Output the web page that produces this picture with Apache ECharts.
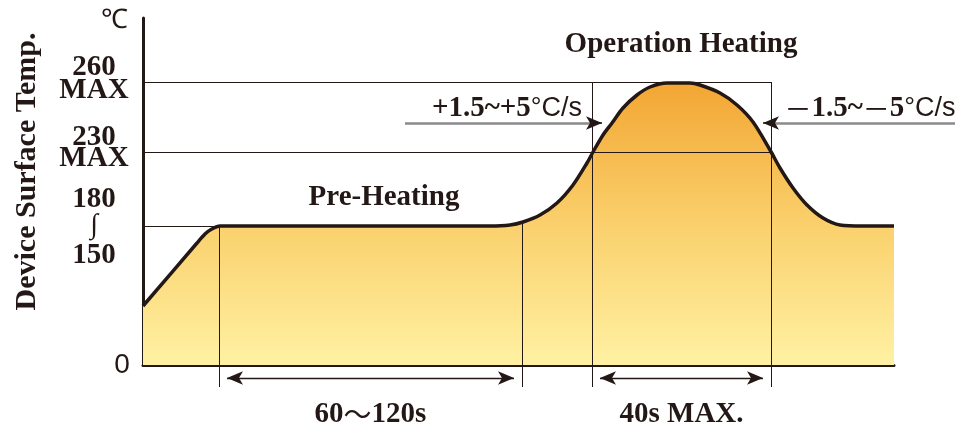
<!DOCTYPE html>
<html><head><meta charset="utf-8">
<script src="https://cdn.jsdelivr.net/npm/echarts@6/dist/echarts.min.js"></script>
<style>html,body{margin:0;padding:0;background:#fff}#c{width:962px;height:430px}</style>
</head><body><div id="c"></div>
<script>
// Schematic reflow profile: x = time (schematic units), y = temperature level (schematic units)
const profileX = [0, 54, 62, 68, 77, 347, 367, 380, 397, 414, 430, 444, 450, 460, 469, 480, 494, 507, 524, 537, 547, 557, 577, 594, 610, 627, 637, 650, 664, 680, 697, 720, 751];
const profileY = [59, 122, 131, 135.5, 139, 139, 140, 143, 150, 162, 180, 202, 213, 230, 242, 257, 270, 278, 282, 282, 282, 280, 272, 260, 243, 215, 197, 177, 160, 147, 140, 139, 139];

// y-axis levels and their labels
const yTickValues = [0, 139, 213, 283, 347];
const yTickLabels = ['0', '180\n∫\n150', '230\nMAX', '260\nMAX', '℃'];

// x-axis duration labels (placed at the middle of each span)
const xLabelValues = [227.5, 538.5];
const xLabelTexts = ['60〜120s', '40s MAX.'];

// guide lines [[x1,y1],[x2,y2]]
const guideLines = [
  [[0, 283], [628, 283]],
  [[0, 213], [628, 213]],
  [[0, 139], [77, 139]],
  [[76, 139], [76, -22]],
  [[379, 143], [379, -22]],
  [[449, 283], [449, -22]],
  [[628, 283], [628, -22]]
];
// double-headed duration arrows
const spanArrows = [
  [[76, -13], [379, -13]],
  [[449, -13], [628, -13]]
];
// slope pointer arrows (from, to)
const slopeArrows = [
  [[262, 242], [467, 242]],
  [[812, 242], [612, 242]]
];
// text annotations
const noteTexts = ['{b|Operation Heating}', '{b|Pre-Heating}', '{b|+1.5~+5}{s|°C/s}', '{m|－}{b|1.5~}{m|－}{b|5}{s|°C/s}'];
const noteX = [538, 241, 364, 727];
const noteY = [320, 167, 256, 256];

const INK = '#231815';
const SERIF = '"Liberation Serif", "Times New Roman", serif';
const SANS = '"Liberation Sans", Arial, sans-serif';
const CJK = '"Noto Sans CJK JP", sans-serif';
const AH = 16; // arrow head length
// extra padding (px) used to place the multi-line y labels like the original
const yLabelPad = {283: {bottom: 11}, 213: {bottom: 16}, 139: {top: 8}};
const LH = 29;
const LH3 = 30;

function shorten(seg, a, b) {
  const [[x1, y1], [x2, y2]] = seg;
  const dx = x2 - x1, dy = y2 - y1, L = Math.hypot(dx, dy);
  const ux = dx / L, uy = dy / L;
  return [[x1 + ux * a, y1 + uy * a], [x2 - ux * b, y2 - uy * b]];
}

const profile = profileX.map((x, i) => [x, profileY[i]]);

const nRich = {fontFamily: SERIF, fontWeight: 'bold', fontSize: 29, lineHeight: LH, color: INK};
const rich = {
  n: nRich,
  w: {fontFamily: SERIF, fontWeight: 'bold', fontSize: 28, lineHeight: LH3, color: INK},
  n3: Object.assign({}, nRich, {lineHeight: LH3}),
  z: {fontFamily: SANS, fontSize: 28, color: INK, padding: [0, 0, 0, 56]},
  c: {fontFamily: SANS, fontSize: 27, color: INK, padding: [6, 0, 0, 40]}
};
Object.keys(yLabelPad).forEach(k => {
  const p = yLabelPad[k];
  rich['p' + k] = Object.assign({}, nRich, {lineHeight: p.top ? LH3 : LH, padding: [p.top || 0, 0, p.bottom || 0, 0]});
});

const chart = echarts.init(document.getElementById('c'), null, {renderer: 'canvas'});
chart.setOption({
  animation: false,
  backgroundColor: '#fff',
  grid: {left: 143, right: 68, top: 18, bottom: 65, containLabel: false},
  xAxis: {
    type: 'value', min: 0, max: 751,
    splitLine: {show: false}, axisTick: {show: false},
    axisLine: {lineStyle: {color: INK, width: 3}},
    axisLabel: {
      customValues: xLabelValues, margin: 35, color: INK,
      formatter: v => {
        const t = xLabelTexts[xLabelValues.indexOf(v)] || '';
        return t.split('〜').map(s => '{b|' + s + '}').join('{m|〜}');
      },
      rich: {
        b: {fontFamily: SERIF, fontWeight: 'bold', fontSize: 29, color: INK},
        m: {fontFamily: CJK, fontWeight: 'normal', fontSize: 28, color: INK}
      }
    }
  },
  yAxis: {
    type: 'value', min: 0, max: 347,
    splitLine: {show: false}, axisTick: {show: false},
    axisLine: {lineStyle: {color: INK, width: 3}},
    name: 'Device Surface Temp.', nameLocation: 'middle', nameRotate: 90, nameGap: 101,
    nameTextStyle: {fontFamily: SERIF, fontWeight: 'bold', fontSize: 30, color: INK, padding: [0, 0, 0, 40]},
    axisLabel: {
      customValues: yTickValues, margin: 49, align: 'center', color: INK,
      formatter: v => {
        const t = yTickLabels[yTickValues.indexOf(v)];
        if (t === '0') return '{z|0}';
        if (t === '℃') return '{c|℃}';
        const pad = yLabelPad[v] || {};
        const lines = t.split('\n');
        return lines.map((s, i) => {
          if (s === '∫') return '{w|∫}';
          let key = lines.length === 3 ? 'n3' : 'n';
          if (pad.bottom && i === lines.length - 1) key = 'p' + v;
          if (pad.top && i === 0) key = 'p' + v;
          return '{' + key + '|' + s + '}';
        }).join('\n');
      },
      rich: rich
    }
  },
  series: [
    {
      type: 'line', data: profile, smooth: 0.3, symbol: 'none', z: 1,
      lineStyle: {width: 0},
      areaStyle: {
        opacity: 1,
        color: new echarts.graphic.LinearGradient(0, 0, 0, 1, [
          {offset: 0, color: '#F3A633'},
          {offset: 0.5, color: '#FAD06C'},
          {offset: 1, color: '#FFF1A3'}
        ])
      }
    },
    {
      type: 'lines', coordinateSystem: 'cartesian2d', clip: false, z: 2,
      symbol: ['none', 'none'],
      lineStyle: {color: INK, width: 1, opacity: 1},
      data: guideLines.map(c => ({coords: c}))
    },
    {
      type: 'lines', coordinateSystem: 'cartesian2d', clip: false, z: 2,
      symbol: ['arrow', 'arrow'], symbolSize: [[10, AH], [10, AH]],
      lineStyle: {color: INK, width: 1.3, opacity: 1},
      data: spanArrows.map(c => ({coords: shorten(c, AH / 2, AH / 2)}))
    },
    {
      type: 'lines', coordinateSystem: 'cartesian2d', clip: false, z: 2,
      symbol: ['none', 'none'],
      lineStyle: {color: '#8a8a8a', width: 2.5, opacity: 1},
      data: slopeArrows.map(c => ({coords: shorten(c, 0, AH)}))
    },
    {
      type: 'lines', coordinateSystem: 'cartesian2d', clip: false, z: 4,
      symbol: ['none', 'arrow'], symbolSize: [[10, AH], [10, AH]],
      lineStyle: {color: INK, width: 1.5, opacity: 1},
      data: slopeArrows.map(c => {
        const s = shorten(c, 0, AH / 2);
        const [[x1, y1], [x2, y2]] = s;
        const L = Math.hypot(x2 - x1, y2 - y1);
        return {coords: [[x2 - (x2 - x1) / L * 4, y2 - (y2 - y1) / L * 4], [x2, y2]]};
      })
    },
    {
      type: 'line', data: profile, smooth: 0.3, symbol: 'none', z: 3,
      lineStyle: {width: 3.5, color: INK}
    },
    {
      type: 'scatter', clip: false, symbolSize: 0, z: 5, silent: true,
      itemStyle: {opacity: 1},
      data: noteTexts.map((t, i) => ({value: [noteX[i], noteY[i]], name: t})),
      label: {
        show: true, position: 'inside', formatter: p => p.name,
        rich: {
          b: {fontFamily: SERIF, fontWeight: 'bold', fontSize: 29, color: INK},
          m: {fontFamily: CJK, fontWeight: 'normal', fontSize: 27, color: INK},
          s: {fontFamily: SANS, fontSize: 27, color: INK}
        }
      }
    }
  ]
});
</script></body></html>
